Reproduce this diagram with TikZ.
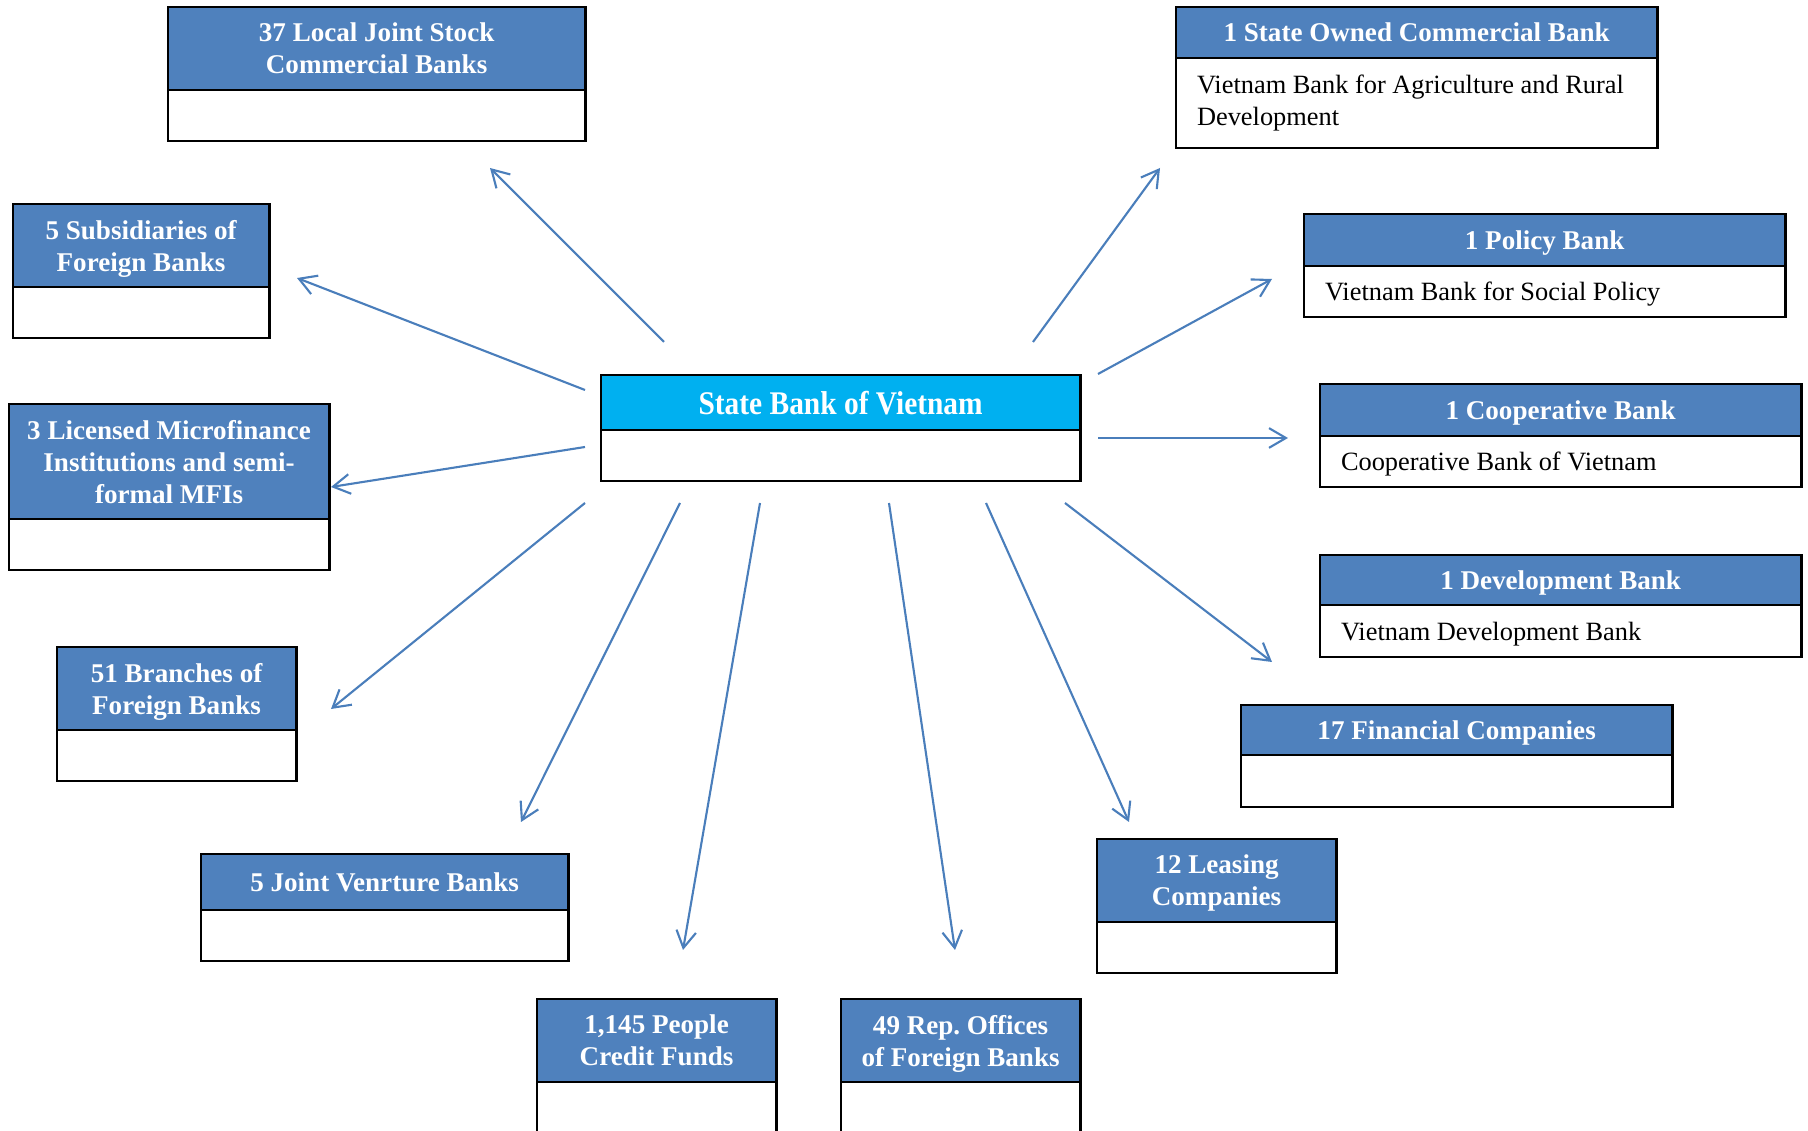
\documentclass[tikz,border=0pt]{standalone}
\usepackage{fontspec}
\setmainfont{Liberation Serif}
\newfontfamily\sbvfont{Liberation Serif}[FakeStretch=0.89]
\usetikzlibrary{arrows.meta}
\definecolor{hdrblue}{RGB}{79,129,189}
\definecolor{sbvblue}{RGB}{0,176,240}
\definecolor{linkblue}{RGB}{74,126,187}
\frenchspacing

\begin{document}
\begin{tikzpicture}[x=0.01cm, y=-0.01cm,
        hdr/.style={draw=black, fill=hdrblue, line width=0.8pt, text=white,
            font=\bfseries\fontsize{7.7}{9.1}\selectfont, align=center,
            anchor=north west, inner sep=0pt, outer sep=0pt, text depth=0pt},
        body/.style={draw=black, fill=white, line width=0.8pt,
            font=\fontsize{7.5}{9.3}\selectfont, align=left, anchor=north,
            inner xsep=0.21cm, inner ysep=0pt, outer sep=0pt,
            execute at begin node=\spaceskip0pt\xspaceskip0pt\relax},
        note/.style={body, text width=4.39cm, text depth=0pt},
        link/.style={draw=linkblue, line width=0.6pt,
            -{Straight Barb[length=4.8pt,width=5.6pt]}}]
        \useasboundingbox (0,0) rectangle (1808,1131);

        % centre
        \node[hdr, fill=sbvblue, font=\sbvfont\bfseries\fontsize{9.4}{11}\selectfont,
            minimum width=4.79cm, minimum height=0.55cm] (S) at (601,375) {State Bank of Vietnam};
        \node[body, minimum width=4.79cm, minimum height=0.51cm] (Sb) at (S.south) {};

        % left side
        \node[hdr, minimum width=4.17cm, minimum height=0.83cm] (L) at (168,7) {37 Local Joint Stock\\Commercial Banks};
        \node[body, minimum width=4.17cm, minimum height=0.51cm] (Lb) at (L.south) {};
        \node[hdr, minimum width=2.56cm, minimum height=0.83cm] (F) at (13,204) {5 Subsidiaries of\\Foreign Banks};
        \node[body, minimum width=2.56cm, minimum height=0.51cm] (Fb) at (F.south) {};
        \node[hdr, minimum width=3.20cm, minimum height=1.15cm] (M) at (9,404) {3 Licensed Microfinance\\Institutions and semi-\\formal MFIs};
        \node[body, minimum width=3.20cm, minimum height=0.51cm] (Mb) at (M.south) {};
        \node[hdr, minimum width=2.39cm, minimum height=0.83cm] (B) at (57,647) {51 Branches of\\Foreign Banks};
        \node[body, minimum width=2.39cm, minimum height=0.51cm] (Bb) at (B.south) {};
        \node[hdr, minimum width=3.67cm, minimum height=0.56cm] (J) at (201,854) {5 Joint Venrture Banks};
        \node[body, minimum width=3.67cm, minimum height=0.51cm] (Jb) at (J.south) {};

        % bottom
        \node[hdr, minimum width=2.39cm, minimum height=0.83cm] (P) at (537,999) {1,145 People\\Credit Funds};
        \node[body, minimum width=2.39cm, minimum height=0.62cm] (Pb) at (P.south) {};
        \node[hdr, minimum width=2.39cm, minimum height=0.83cm] (R) at (841,999) {49 Rep. Offices\\of Foreign Banks};
        \node[body, minimum width=2.39cm, minimum height=0.62cm] (Rb) at (R.south) {};

        % right side
        \node[hdr, minimum width=4.81cm, minimum height=0.51cm] (C) at (1176,7) {1 State Owned Commercial Bank};
        \node[body, text width=4.39cm, minimum height=0.90cm] (Cb) at (C.south) {Vietnam Bank for Agriculture and Rural\\Development};
        \node[hdr, minimum width=4.81cm, minimum height=0.52cm] (Y) at (1304,214) {1 Policy Bank};
        \node[note, minimum height=0.51cm] (Yb) at (Y.south) {Vietnam Bank for Social Policy};
        \node[hdr, minimum width=4.81cm, minimum height=0.52cm] (K) at (1320,384) {1 Cooperative Bank};
        \node[note, minimum height=0.51cm] (Kb) at (K.south) {Cooperative Bank of Vietnam};
        \node[hdr, minimum width=4.81cm, minimum height=0.50cm] (D) at (1320,555) {1 Development Bank};
        \node[note, minimum height=0.52cm] (Db) at (D.south) {Vietnam Development Bank};
        \node[hdr, minimum width=4.31cm, minimum height=0.50cm] (N) at (1241,705) {17 Financial Companies};
        \node[body, minimum width=4.31cm, minimum height=0.52cm] (Nb) at (N.south) {};
        \node[hdr, minimum width=2.39cm, minimum height=0.83cm] (G) at (1097,839) {12 Leasing\\Companies};
        \node[body, minimum width=2.39cm, minimum height=0.51cm] (Gb) at (G.south) {};

        % arrow ends
        \coordinate (sL) at (664,342);  \coordinate (eL) at (490,168);
        \coordinate (sF) at (585,390);  \coordinate (eF) at (297,278);
        \coordinate (sM) at (585,447);  \coordinate (eM) at (331,487);
        \coordinate (sB) at (585,503);  \coordinate (eB) at (331,709);
        \coordinate (sJ) at (680,503);  \coordinate (eJ) at (521,822);
        \coordinate (sP) at (760,503);  \coordinate (eP) at (683,950);
        \coordinate (sR) at (889,503);  \coordinate (eR) at (955,950);
        \coordinate (sG) at (986,503);  \coordinate (eG) at (1129,822);
        \coordinate (sD) at (1065,503); \coordinate (eD) at (1272,662);
        \coordinate (sK) at (1098,438); \coordinate (eK) at (1288,438);
        \coordinate (sY) at (1098,374); \coordinate (eY) at (1272,279);
        \coordinate (sC) at (1033,342); \coordinate (eC) at (1160,168);

        \draw[link] (sL) -- (eL);
        \draw[link] (sF) -- (eF);
        \draw[link] (sM) -- (eM);
        \draw[link] (sB) -- (eB);
        \draw[link] (sJ) -- (eJ);
        \draw[link] (sP) -- (eP);
        \draw[link] (sR) -- (eR);
        \draw[link] (sG) -- (eG);
        \draw[link] (sD) -- (eD);
        \draw[link] (sK) -- (eK);
        \draw[link] (sY) -- (eY);
        \draw[link] (sC) -- (eC);

    \end{tikzpicture}
\end{document}
